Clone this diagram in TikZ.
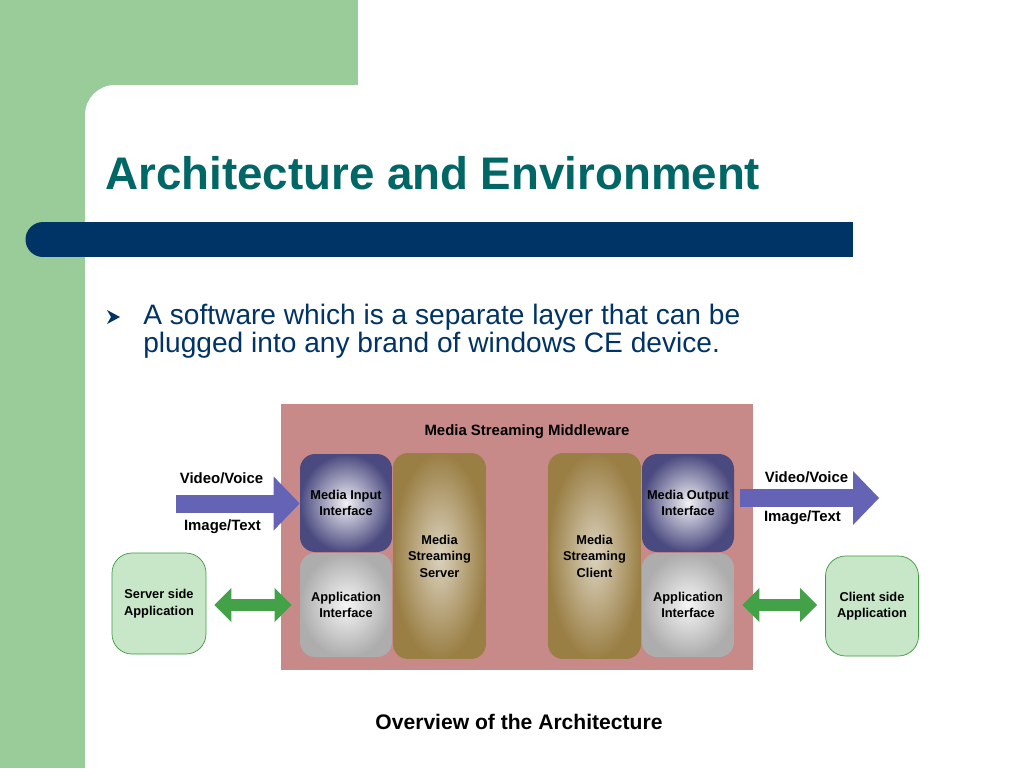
\documentclass[tikz,border=0pt]{standalone}
\usepackage{fontspec}
\setmainfont{Liberation Sans}
\usepackage{xcolor}
\definecolor{SlideGreen}{HTML}{99CC99}
\definecolor{BarNavy}{HTML}{003366}
\definecolor{TitleTeal}{HTML}{006666}
\definecolor{TextNavy}{HTML}{003366}
\definecolor{MiddlewarePink}{HTML}{C88A88}
\definecolor{IfaceBlue}{HTML}{4B4A80}
\definecolor{StreamGold}{HTML}{9A7F45}
\definecolor{AppGray}{HTML}{ADADAD}
\definecolor{SideGreen}{HTML}{C8E6C8}
\definecolor{SideBorder}{HTML}{3E9A3E}
\definecolor{ArrowBlue}{HTML}{6463B6}
\definecolor{ArrowGreen}{HTML}{43A147}
\usepackage{tikz}
\usetikzlibrary{arrows.meta, positioning}
\tikzset{
  % Box styles
  middlewarebox/.style={rectangle, fill=MiddlewarePink, minimum width=9.44cm, minimum height=5.32cm, inner sep=0pt},
  ifacebox/.style={rectangle, rounded corners=0.3cm, inner color=IfaceBlue!8!white, outer color=IfaceBlue, minimum width=1.84cm, minimum height=1.96cm, inner sep=0pt, font=\fontsize{7.3}{9.4}\selectfont\bfseries, align=center},
  appbox/.style={ifacebox, inner color=AppGray!12!white, outer color=AppGray, minimum height=2.08cm},
  streambox/.style={ifacebox, inner color=StreamGold!35!white, outer color=StreamGold, minimum width=1.86cm, minimum height=4.12cm},
  sidebox/.style={rectangle, rounded corners=0.4cm, draw=SideBorder, fill=SideGreen, minimum width=1.88cm, minimum height=2.02cm, inner sep=0pt, font=\fontsize{7.3}{9.4}\selectfont\bfseries, align=center},
  flowlabel/.style={font=\fontsize{8.5}{10}\selectfont\bfseries, inner sep=0pt},
  % Arrow styles
  bluearrow/.style={-{Triangle[length=0.52cm, width=1.08cm, line width=0pt]}, line width=0.36cm, ArrowBlue},
  greenarrow/.style={{Triangle[length=0.34cm, width=0.68cm, line width=0pt]}-{Triangle[length=0.34cm, width=0.68cm, line width=0pt]}, line width=0.24cm, ArrowGreen, shorten <=0.16cm, shorten >=0.16cm}
}
\begin{document}
\begin{tikzpicture}[x=0.02cm, y=-0.02cm]
  \useasboundingbox (0,0) rectangle (1024,768);
  \fill[white] (0,0) rectangle (1024,768);
  \fill[SlideGreen] (0,0) rectangle (358,85);
  \fill[SlideGreen] (0,0) rectangle (130,130);
  \fill[SlideGreen] (0,0) rectangle (85,768);
  \fill[white, rounded corners=0.6cm] (85,820) -- (85,85) -- (1080,85) -- (1080,820) -- cycle;
  \fill[BarNavy] (43,222) rectangle (853,257);
  \fill[BarNavy] (43,239.5) circle[radius=0.35cm];

  \node[anchor=base west, inner sep=0pt, text=TitleTeal, font=\fontsize{26}{30}\selectfont\bfseries] (title) at (105,189) {Architecture and Environment};
  \fill[TextNavy] (107,310) -- (120,317) -- (107,324) -- (111,317) -- cycle;
  \node[anchor=base west, inner sep=0pt, text=TextNavy, font=\fontsize{16}{19}\selectfont] (pointa) at (143,324) {A software which is a separate layer that can be};
  \node[anchor=base west, inner sep=0pt, text=TextNavy, font=\fontsize{16}{19}\selectfont] (pointb) at (143,352) {plugged into any brand of windows CE device.};

  \node[middlewarebox] (msw) at (517,537) {};
  \node[font=\fontsize{8.5}{10}\selectfont\bfseries] (mswlabel) at (527,432) {Media Streaming Middleware};
  \node[ifacebox] (mii) at (346,503) {Media Input\\Interface};
  \node[appbox] (ail) at (346,605) {Application\\Interface};
  \node[streambox] (mss) at (439.5,556) {Media\\Streaming\\Server};
  \node[streambox] (msc) at (594.5,556) {Media\\Streaming\\Client};
  \node[ifacebox] (mio) at (688,503) {Media Output\\Interface};
  \node[appbox] (air) at (688,605) {Application\\Interface};

  \node[sidebox] (ssa) at (159,603.5) {Server side\\Application};
  \node[sidebox, minimum width=1.86cm, minimum height=2cm] (csa) at (872,606) {Client side\\Application};

  \node[flowlabel] (vvl) at (221.5,478) {Video/Voice};
  \node[flowlabel] (itl) at (222.5,527) {Image/Text};
  \node[flowlabel] (vvr) at (806.5,477) {Video/Voice};
  \node[flowlabel] (itr) at (802.5,518) {Image/Text};

  \coordinate (vin) at (176,503.5);
  \coordinate (vout) at (879,498);
  \draw[bluearrow] (vin) -- (vin -| mii.west);
  \draw[bluearrow, shorten <=0.12cm] (vout -| mio.east) -- (vout);
  \draw[greenarrow] (ail.west -| ssa.east) -- (ail.west);
  \draw[greenarrow] (air.east) -- (air.east -| csa.west);

  \node[font=\fontsize{12}{14}\selectfont\bfseries] (caption) at (519,722) {Overview of the Architecture};
\end{tikzpicture}
\end{document}
